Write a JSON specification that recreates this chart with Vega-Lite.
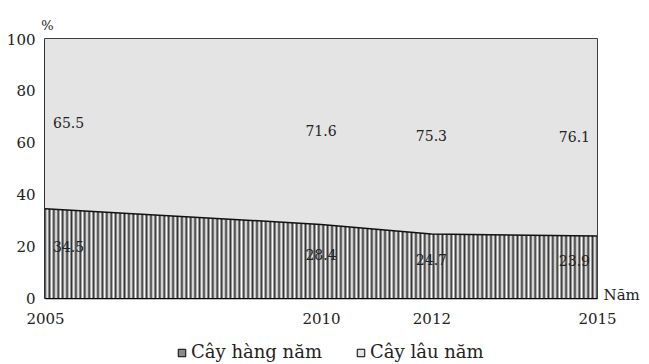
{
"$schema":"https://vega.github.io/schema/vega-lite/v6.json",
"width":552,"height":259,
"autosize":{"type":"none"},
"padding":{"left":45,"top":39,"right":52,"bottom":66},
"background":"white",
"config":{"view":{"stroke":"#000","strokeWidth":1.5},"font":"DejaVu Serif",
"axis":{"grid":false,"ticks":false,"domainColor":"#000","domainWidth":1.5,"labelFont":"DejaVu Serif","labelFontSize":15,"labelColor":"#222","titleFont":"DejaVu Serif","titleFontWeight":"normal","titleColor":"#222"}},
"data":{"values":[
{"year":2005,"type":"Cây hàng năm","value":34.5},
{"year":2005,"type":"Cây lâu năm","value":65.5},
{"year":2010,"type":"Cây hàng năm","value":28.4},
{"year":2010,"type":"Cây lâu năm","value":71.6},
{"year":2012,"type":"Cây hàng năm","value":24.7},
{"year":2012,"type":"Cây lâu năm","value":75.3},
{"year":2015,"type":"Cây hàng năm","value":23.9},
{"year":2015,"type":"Cây lâu năm","value":76.1}
]},
"transform":[
{"stack":"value","groupby":["year"],"sort":[{"field":"type","order":"ascending"}],"as":["v0","v1"]},
{"calculate":"(datum.v0+datum.v1)/2","as":"mid"}
],
"encoding":{"x":{"field":"year","type":"quantitative","scale":{"domain":[2005,2015],"nice":false},"axis":{"values":[2005,2010,2012,2015],"format":"d","labelFlush":false,"labelPadding":13,"title":"Năm","titleX":558,"titleY":-4,"titleAlign":"left","titleBaseline":"middle","titleFontSize":15}}},
"layer":[
{"mark":{"type":"area","opacity":1},
 "encoding":{
  "y":{"field":"v1","type":"quantitative","scale":{"domain":[0,100],"nice":false},"title":"%","axis":{"values":[0,20,40,60,80,100],"labelPadding":10,"titleAngle":0,"titleX":2,"titleY":-14,"titleAlign":"center","titleBaseline":"middle","titleFontSize":13}},
  "y2":{"field":"v0"},
  "color":{"field":"type","type":"nominal","scale":{"domain":["Cây hàng năm","Cây lâu năm"],"range":["#8a8a8a","#e4e4e4"]},
   "legend":{"orient":"none","legendX":128,"legendY":305,"direction":"horizontal","title":null,"symbolType":"square","symbolSize":56,"symbolStrokeColor":"#000","symbolStrokeWidth":1,"symbolOpacity":1,"labelFont":"DejaVu Serif","labelFontSize":18,"labelColor":"#222","labelOffset":0,"columnPadding":30,"padding":0}}
 }},
{"transform":[{"filter":"datum.type==='Cây hàng năm'"}],
 "mark":{"type":"area","opacity":1,"fill":{"gradient":"linear","x1":0,"y1":0,"x2":1,"y2":0,"stops":[
{"offset":0,"color":"#333"},{"offset":0.004,"color":"#fff"},{"offset":0.008,"color":"#333"},{"offset":0.012,"color":"#fff"},{"offset":0.016,"color":"#333"},{"offset":0.02,"color":"#fff"},{"offset":0.024,"color":"#333"},{"offset":0.028,"color":"#fff"},{"offset":0.032,"color":"#333"},{"offset":0.036,"color":"#fff"},{"offset":0.04,"color":"#333"},{"offset":0.044,"color":"#fff"},{"offset":0.048,"color":"#333"},{"offset":0.052,"color":"#fff"},{"offset":0.056,"color":"#333"},{"offset":0.06,"color":"#fff"},{"offset":0.064,"color":"#333"},{"offset":0.068,"color":"#fff"},{"offset":0.072,"color":"#333"},{"offset":0.076,"color":"#fff"},{"offset":0.08,"color":"#333"},{"offset":0.084,"color":"#fff"},{"offset":0.088,"color":"#333"},{"offset":0.092,"color":"#fff"},{"offset":0.096,"color":"#333"},{"offset":0.1,"color":"#fff"},{"offset":0.104,"color":"#333"},{"offset":0.108,"color":"#fff"},{"offset":0.112,"color":"#333"},{"offset":0.116,"color":"#fff"},{"offset":0.12,"color":"#333"},{"offset":0.124,"color":"#fff"},{"offset":0.128,"color":"#333"},{"offset":0.132,"color":"#fff"},{"offset":0.136,"color":"#333"},{"offset":0.14,"color":"#fff"},{"offset":0.144,"color":"#333"},{"offset":0.148,"color":"#fff"},{"offset":0.152,"color":"#333"},{"offset":0.156,"color":"#fff"},{"offset":0.16,"color":"#333"},{"offset":0.164,"color":"#fff"},{"offset":0.168,"color":"#333"},{"offset":0.172,"color":"#fff"},{"offset":0.176,"color":"#333"},{"offset":0.18,"color":"#fff"},{"offset":0.184,"color":"#333"},{"offset":0.188,"color":"#fff"},{"offset":0.192,"color":"#333"},{"offset":0.196,"color":"#fff"},
{"offset":0.2,"color":"#333"},{"offset":0.204,"color":"#fff"},{"offset":0.208,"color":"#333"},{"offset":0.212,"color":"#fff"},{"offset":0.216,"color":"#333"},{"offset":0.22,"color":"#fff"},{"offset":0.224,"color":"#333"},{"offset":0.228,"color":"#fff"},{"offset":0.232,"color":"#333"},{"offset":0.236,"color":"#fff"},{"offset":0.24,"color":"#333"},{"offset":0.244,"color":"#fff"},{"offset":0.248,"color":"#333"},{"offset":0.252,"color":"#fff"},{"offset":0.256,"color":"#333"},{"offset":0.26,"color":"#fff"},{"offset":0.264,"color":"#333"},{"offset":0.268,"color":"#fff"},{"offset":0.272,"color":"#333"},{"offset":0.276,"color":"#fff"},{"offset":0.28,"color":"#333"},{"offset":0.284,"color":"#fff"},{"offset":0.288,"color":"#333"},{"offset":0.292,"color":"#fff"},{"offset":0.296,"color":"#333"},{"offset":0.3,"color":"#fff"},{"offset":0.304,"color":"#333"},{"offset":0.308,"color":"#fff"},{"offset":0.312,"color":"#333"},{"offset":0.316,"color":"#fff"},{"offset":0.32,"color":"#333"},{"offset":0.324,"color":"#fff"},{"offset":0.328,"color":"#333"},{"offset":0.332,"color":"#fff"},{"offset":0.336,"color":"#333"},{"offset":0.34,"color":"#fff"},{"offset":0.344,"color":"#333"},{"offset":0.348,"color":"#fff"},{"offset":0.352,"color":"#333"},{"offset":0.356,"color":"#fff"},{"offset":0.36,"color":"#333"},{"offset":0.364,"color":"#fff"},{"offset":0.368,"color":"#333"},{"offset":0.372,"color":"#fff"},{"offset":0.376,"color":"#333"},{"offset":0.38,"color":"#fff"},{"offset":0.384,"color":"#333"},{"offset":0.388,"color":"#fff"},{"offset":0.392,"color":"#333"},{"offset":0.396,"color":"#fff"},
{"offset":0.4,"color":"#333"},{"offset":0.404,"color":"#fff"},{"offset":0.408,"color":"#333"},{"offset":0.412,"color":"#fff"},{"offset":0.416,"color":"#333"},{"offset":0.42,"color":"#fff"},{"offset":0.424,"color":"#333"},{"offset":0.428,"color":"#fff"},{"offset":0.432,"color":"#333"},{"offset":0.436,"color":"#fff"},{"offset":0.44,"color":"#333"},{"offset":0.444,"color":"#fff"},{"offset":0.448,"color":"#333"},{"offset":0.452,"color":"#fff"},{"offset":0.456,"color":"#333"},{"offset":0.46,"color":"#fff"},{"offset":0.464,"color":"#333"},{"offset":0.468,"color":"#fff"},{"offset":0.472,"color":"#333"},{"offset":0.476,"color":"#fff"},{"offset":0.48,"color":"#333"},{"offset":0.484,"color":"#fff"},{"offset":0.488,"color":"#333"},{"offset":0.492,"color":"#fff"},{"offset":0.496,"color":"#333"},{"offset":0.5,"color":"#fff"},{"offset":0.504,"color":"#333"},{"offset":0.508,"color":"#fff"},{"offset":0.512,"color":"#333"},{"offset":0.516,"color":"#fff"},{"offset":0.52,"color":"#333"},{"offset":0.524,"color":"#fff"},{"offset":0.528,"color":"#333"},{"offset":0.532,"color":"#fff"},{"offset":0.536,"color":"#333"},{"offset":0.54,"color":"#fff"},{"offset":0.544,"color":"#333"},{"offset":0.548,"color":"#fff"},{"offset":0.552,"color":"#333"},{"offset":0.556,"color":"#fff"},{"offset":0.56,"color":"#333"},{"offset":0.564,"color":"#fff"},{"offset":0.568,"color":"#333"},{"offset":0.572,"color":"#fff"},{"offset":0.576,"color":"#333"},{"offset":0.58,"color":"#fff"},{"offset":0.584,"color":"#333"},{"offset":0.588,"color":"#fff"},{"offset":0.592,"color":"#333"},{"offset":0.596,"color":"#fff"},
{"offset":0.6,"color":"#333"},{"offset":0.604,"color":"#fff"},{"offset":0.608,"color":"#333"},{"offset":0.612,"color":"#fff"},{"offset":0.616,"color":"#333"},{"offset":0.62,"color":"#fff"},{"offset":0.624,"color":"#333"},{"offset":0.628,"color":"#fff"},{"offset":0.632,"color":"#333"},{"offset":0.636,"color":"#fff"},{"offset":0.64,"color":"#333"},{"offset":0.644,"color":"#fff"},{"offset":0.648,"color":"#333"},{"offset":0.652,"color":"#fff"},{"offset":0.656,"color":"#333"},{"offset":0.66,"color":"#fff"},{"offset":0.664,"color":"#333"},{"offset":0.668,"color":"#fff"},{"offset":0.672,"color":"#333"},{"offset":0.676,"color":"#fff"},{"offset":0.68,"color":"#333"},{"offset":0.684,"color":"#fff"},{"offset":0.688,"color":"#333"},{"offset":0.692,"color":"#fff"},{"offset":0.696,"color":"#333"},{"offset":0.7,"color":"#fff"},{"offset":0.704,"color":"#333"},{"offset":0.708,"color":"#fff"},{"offset":0.712,"color":"#333"},{"offset":0.716,"color":"#fff"},{"offset":0.72,"color":"#333"},{"offset":0.724,"color":"#fff"},{"offset":0.728,"color":"#333"},{"offset":0.732,"color":"#fff"},{"offset":0.736,"color":"#333"},{"offset":0.74,"color":"#fff"},{"offset":0.744,"color":"#333"},{"offset":0.748,"color":"#fff"},{"offset":0.752,"color":"#333"},{"offset":0.756,"color":"#fff"},{"offset":0.76,"color":"#333"},{"offset":0.764,"color":"#fff"},{"offset":0.768,"color":"#333"},{"offset":0.772,"color":"#fff"},{"offset":0.776,"color":"#333"},{"offset":0.78,"color":"#fff"},{"offset":0.784,"color":"#333"},{"offset":0.788,"color":"#fff"},{"offset":0.792,"color":"#333"},{"offset":0.796,"color":"#fff"},
{"offset":0.8,"color":"#333"},{"offset":0.804,"color":"#fff"},{"offset":0.808,"color":"#333"},{"offset":0.812,"color":"#fff"},{"offset":0.816,"color":"#333"},{"offset":0.82,"color":"#fff"},{"offset":0.824,"color":"#333"},{"offset":0.828,"color":"#fff"},{"offset":0.832,"color":"#333"},{"offset":0.836,"color":"#fff"},{"offset":0.84,"color":"#333"},{"offset":0.844,"color":"#fff"},{"offset":0.848,"color":"#333"},{"offset":0.852,"color":"#fff"},{"offset":0.856,"color":"#333"},{"offset":0.86,"color":"#fff"},{"offset":0.864,"color":"#333"},{"offset":0.868,"color":"#fff"},{"offset":0.872,"color":"#333"},{"offset":0.876,"color":"#fff"},{"offset":0.88,"color":"#333"},{"offset":0.884,"color":"#fff"},{"offset":0.888,"color":"#333"},{"offset":0.892,"color":"#fff"},{"offset":0.896,"color":"#333"},{"offset":0.9,"color":"#fff"},{"offset":0.904,"color":"#333"},{"offset":0.908,"color":"#fff"},{"offset":0.912,"color":"#333"},{"offset":0.916,"color":"#fff"},{"offset":0.92,"color":"#333"},{"offset":0.924,"color":"#fff"},{"offset":0.928,"color":"#333"},{"offset":0.932,"color":"#fff"},{"offset":0.936,"color":"#333"},{"offset":0.94,"color":"#fff"},{"offset":0.944,"color":"#333"},{"offset":0.948,"color":"#fff"},{"offset":0.952,"color":"#333"},{"offset":0.956,"color":"#fff"},{"offset":0.96,"color":"#333"},{"offset":0.964,"color":"#fff"},{"offset":0.968,"color":"#333"},{"offset":0.972,"color":"#fff"},{"offset":0.976,"color":"#333"},{"offset":0.98,"color":"#fff"},{"offset":0.984,"color":"#333"},{"offset":0.988,"color":"#fff"},{"offset":0.992,"color":"#333"},{"offset":0.996,"color":"#fff"},
{"offset":1,"color":"#333"}
 ]}},
 "encoding":{
  "y":{"field":"v1","type":"quantitative","scale":{"domain":[0,100],"nice":false},"title":"%","axis":{"values":[0,20,40,60,80,100],"labelPadding":10,"titleAngle":0,"titleX":2,"titleY":-14,"titleAlign":"center","titleBaseline":"middle","titleFontSize":13}},
  "y2":{"field":"v0"}
 }},
{"transform":[{"filter":"datum.type==='Cây hàng năm'"}],
 "mark":{"type":"line","color":"#111","strokeWidth":1.5},
 "encoding":{
  "y":{"field":"v1","type":"quantitative","scale":{"domain":[0,100],"nice":false},"title":"%","axis":{"values":[0,20,40,60,80,100],"labelPadding":10,"titleAngle":0,"titleX":2,"titleY":-14,"titleAlign":"center","titleBaseline":"middle","titleFontSize":13}}
 }},
{"mark":{"type":"text","font":"DejaVu Serif","fontSize":14,"color":"#222","baseline":"middle",
  "align":{"expr":"datum.year===2005?'left':(datum.year===2015?'right':'center')"},
  "dx":{"expr":"datum.year===2005?8:(datum.year===2015?-7:0)"},
  "dy":{"expr":"datum.type==='Cây hàng năm'?-5:0"}},
 "encoding":{
  "y":{"field":"mid","type":"quantitative","scale":{"domain":[0,100],"nice":false},"title":"%","axis":{"values":[0,20,40,60,80,100],"labelPadding":10,"titleAngle":0,"titleX":2,"titleY":-14,"titleAlign":"center","titleBaseline":"middle","titleFontSize":13}},
  "text":{"field":"value","type":"quantitative","format":".1f"}
 }}
]
}
